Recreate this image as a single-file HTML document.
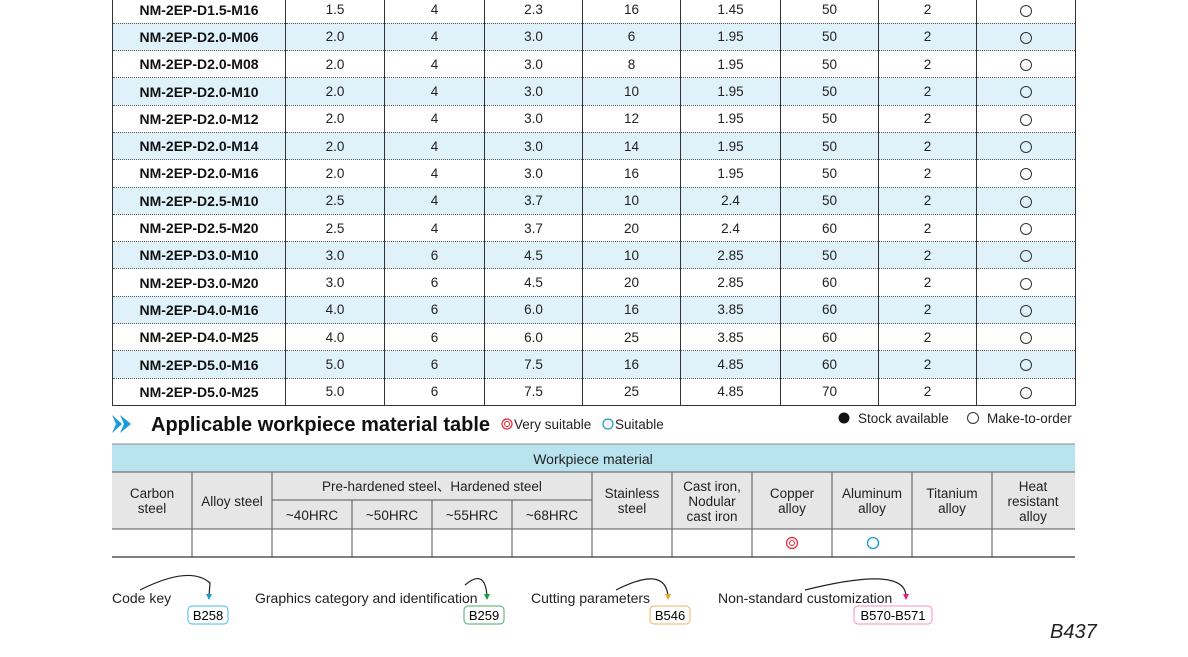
<!DOCTYPE html><html><head><style>
body{margin:0;background:#fff;width:1188px;height:657px;overflow:hidden;position:relative;font-family:"Liberation Sans",Arial,sans-serif}
svg{display:block;position:absolute;left:0;top:0}
table.t{position:absolute;left:112px;top:-3.5px;width:963px;border-collapse:collapse;table-layout:fixed;border-left:1.5px solid #333;border-right:1.5px solid #333;border-bottom:1.5px solid #333}
table.t td{height:26.3px;padding:0;text-align:center;font-size:13.5px;color:#222;border-left:1px solid #333;border-top:1px dotted #555}
table.t tr:first-child td{border-top:none}
table.t td:first-child{font-weight:bold;font-size:14px;color:#111;border-left:none}
table.t tr:nth-child(even) td{background:#e0f2f9}
.o{display:inline-block;width:10px;height:10px;border:1px solid #333;border-radius:50%;vertical-align:middle}
</style></head><body>
<table class="t">
<colgroup><col style="width:173px"><col style="width:99px"><col style="width:100px"><col style="width:98px"><col style="width:98px"><col style="width:100px"><col style="width:98px"><col style="width:98px"><col style="width:99px"></colgroup>
<tr><td>NM-2EP-D1.5-M16</td><td>1.5</td><td>4</td><td>2.3</td><td>16</td><td>1.45</td><td>50</td><td>2</td><td><span class="o"></span></td></tr>
<tr><td>NM-2EP-D2.0-M06</td><td>2.0</td><td>4</td><td>3.0</td><td>6</td><td>1.95</td><td>50</td><td>2</td><td><span class="o"></span></td></tr>
<tr><td>NM-2EP-D2.0-M08</td><td>2.0</td><td>4</td><td>3.0</td><td>8</td><td>1.95</td><td>50</td><td>2</td><td><span class="o"></span></td></tr>
<tr><td>NM-2EP-D2.0-M10</td><td>2.0</td><td>4</td><td>3.0</td><td>10</td><td>1.95</td><td>50</td><td>2</td><td><span class="o"></span></td></tr>
<tr><td>NM-2EP-D2.0-M12</td><td>2.0</td><td>4</td><td>3.0</td><td>12</td><td>1.95</td><td>50</td><td>2</td><td><span class="o"></span></td></tr>
<tr><td>NM-2EP-D2.0-M14</td><td>2.0</td><td>4</td><td>3.0</td><td>14</td><td>1.95</td><td>50</td><td>2</td><td><span class="o"></span></td></tr>
<tr><td>NM-2EP-D2.0-M16</td><td>2.0</td><td>4</td><td>3.0</td><td>16</td><td>1.95</td><td>50</td><td>2</td><td><span class="o"></span></td></tr>
<tr><td>NM-2EP-D2.5-M10</td><td>2.5</td><td>4</td><td>3.7</td><td>10</td><td>2.4</td><td>50</td><td>2</td><td><span class="o"></span></td></tr>
<tr><td>NM-2EP-D2.5-M20</td><td>2.5</td><td>4</td><td>3.7</td><td>20</td><td>2.4</td><td>60</td><td>2</td><td><span class="o"></span></td></tr>
<tr><td>NM-2EP-D3.0-M10</td><td>3.0</td><td>6</td><td>4.5</td><td>10</td><td>2.85</td><td>50</td><td>2</td><td><span class="o"></span></td></tr>
<tr><td>NM-2EP-D3.0-M20</td><td>3.0</td><td>6</td><td>4.5</td><td>20</td><td>2.85</td><td>60</td><td>2</td><td><span class="o"></span></td></tr>
<tr><td>NM-2EP-D4.0-M16</td><td>4.0</td><td>6</td><td>6.0</td><td>16</td><td>3.85</td><td>60</td><td>2</td><td><span class="o"></span></td></tr>
<tr><td>NM-2EP-D4.0-M25</td><td>4.0</td><td>6</td><td>6.0</td><td>25</td><td>3.85</td><td>60</td><td>2</td><td><span class="o"></span></td></tr>
<tr><td>NM-2EP-D5.0-M16</td><td>5.0</td><td>6</td><td>7.5</td><td>16</td><td>4.85</td><td>60</td><td>2</td><td><span class="o"></span></td></tr>
<tr><td>NM-2EP-D5.0-M25</td><td>5.0</td><td>6</td><td>7.5</td><td>25</td><td>4.85</td><td>70</td><td>2</td><td><span class="o"></span></td></tr>
</table>
<svg width="1188" height="657" viewBox="0 0 1188 657" xmlns="http://www.w3.org/2000/svg" style="pointer-events:none;font-family:'Liberation Sans',Arial,sans-serif">
<polygon points="112,415 122,424 112,433 116,424" fill="#1a9ad6"/><polygon points="120,415 131,424 120,433 124,424" fill="#1a9ad6"/>
<text x="151" y="431" font-size="20" font-weight="bold" fill="#111">Applicable workpiece material table</text>
<circle cx="507" cy="424" r="5" fill="none" stroke="#e23" stroke-width="1.2"/><circle cx="507" cy="424" r="2.5" fill="none" stroke="#e23"/>
<text x="514" y="429" font-size="13.5" fill="#222">Very suitable</text>
<circle cx="608" cy="424" r="5" fill="none" stroke="#1a9ad6" stroke-width="1.2"/>
<text x="615" y="429" font-size="13.5" fill="#222">Suitable</text>
<circle cx="844" cy="418" r="5.5" fill="#111"/><text x="858" y="423" font-size="13.5" fill="#222">Stock available</text>
<circle cx="973" cy="418" r="5.5" fill="none" stroke="#333"/><text x="987" y="423" font-size="13.5" fill="#222">Make-to-order</text>
<rect x="112" y="444" width="963" height="28" fill="#b9e3ee"/>
<text x="593" y="464" text-anchor="middle" font-size="14" fill="#222">Workpiece material</text>
<rect x="112" y="472" width="963" height="57" fill="#e6e6e6"/>
<line x1="112" x2="1075" y1="444" y2="444" stroke="#888"/>
<line x1="112" x2="1075" y1="472" y2="472" stroke="#555"/>
<line x1="272" x2="592" y1="500" y2="500" stroke="#555"/>
<line x1="112" x2="1075" y1="529" y2="529" stroke="#555"/>
<line x1="112" x2="1075" y1="557" y2="557" stroke="#555" stroke-width="1.5"/>
<g stroke="#555">
<line x1="192" x2="192" y1="472" y2="557"/><line x1="272" x2="272" y1="472" y2="557"/>
<line x1="352" x2="352" y1="500" y2="557"/><line x1="432" x2="432" y1="500" y2="557"/><line x1="512" x2="512" y1="500" y2="557"/>
<line x1="592" x2="592" y1="472" y2="557"/><line x1="672" x2="672" y1="472" y2="557"/><line x1="752" x2="752" y1="472" y2="557"/>
<line x1="832" x2="832" y1="472" y2="557"/><line x1="912" x2="912" y1="472" y2="557"/><line x1="992" x2="992" y1="472" y2="557"/>
</g>
<g font-size="13.5" fill="#222" text-anchor="middle">
<text x="152" y="498">Carbon</text><text x="152" y="513">steel</text>
<text x="232" y="506">Alloy steel</text>
<text x="432" y="491">Pre-hardened steel、Hardened steel</text>
<text x="312" y="520">~40HRC</text><text x="392" y="520">~50HRC</text><text x="472" y="520">~55HRC</text><text x="552" y="520">~68HRC</text>
<text x="632" y="498">Stainless</text><text x="632" y="513">steel</text>
<text x="712" y="491">Cast iron,</text><text x="712" y="506">Nodular</text><text x="712" y="521">cast iron</text>
<text x="792" y="498">Copper</text><text x="792" y="513">alloy</text>
<text x="872" y="498">Aluminum</text><text x="872" y="513">alloy</text>
<text x="952" y="498">Titanium</text><text x="952" y="513">alloy</text>
<text x="1033" y="491">Heat</text><text x="1033" y="506">resistant</text><text x="1033" y="521">alloy</text>
</g>
<circle cx="792" cy="543" r="5.5" fill="none" stroke="#e23" stroke-width="1.2"/><circle cx="792" cy="543" r="2.5" fill="none" stroke="#e23"/>
<circle cx="873" cy="543" r="5.5" fill="none" stroke="#1a9ad6" stroke-width="1.3"/>
<g font-size="14" fill="#222">
<text x="112" y="603">Code key</text><text x="255" y="603">Graphics category and identification</text>
<text x="531" y="603">Cutting parameters</text><text x="718" y="603">Non-standard customization</text>
</g>
<g fill="none" stroke="#222" stroke-width="1.2">
<path d="M140 590 Q190 565 210 583 L209 596"/><path d="M465 585 Q485 568 487 596"/>
<path d="M616 590 Q665 565 668 596"/><path d="M805 590 Q905 565 906 596"/>
</g>
<polygon points="206,594 212,594 209,600" fill="#1a9ad6"/><polygon points="484,594 490,594 487,600" fill="#1a9a3a"/>
<polygon points="665,594 671,594 668,600" fill="#f0a030"/><polygon points="903,594 909,594 906,600" fill="#e0208a"/>
<rect x="188" y="606" width="40" height="18" rx="4" fill="#fff" stroke="#4ab8e8"/><text x="208" y="620" font-size="13" text-anchor="middle">B258</text>
<rect x="464" y="606" width="40" height="18" rx="4" fill="#fff" stroke="#4aaa6a"/><text x="484" y="620" font-size="13" text-anchor="middle">B259</text>
<rect x="650" y="606" width="40" height="18" rx="4" fill="#fff" stroke="#f0b060"/><text x="670" y="620" font-size="13" text-anchor="middle">B546</text>
<rect x="854" y="606" width="78" height="18" rx="4" fill="#fff" stroke="#f090c0"/><text x="893" y="620" font-size="13" text-anchor="middle">B570-B571</text>
<text x="1050" y="638" font-size="20" font-style="italic" fill="#222">B437</text>
</svg>
</body></html>
